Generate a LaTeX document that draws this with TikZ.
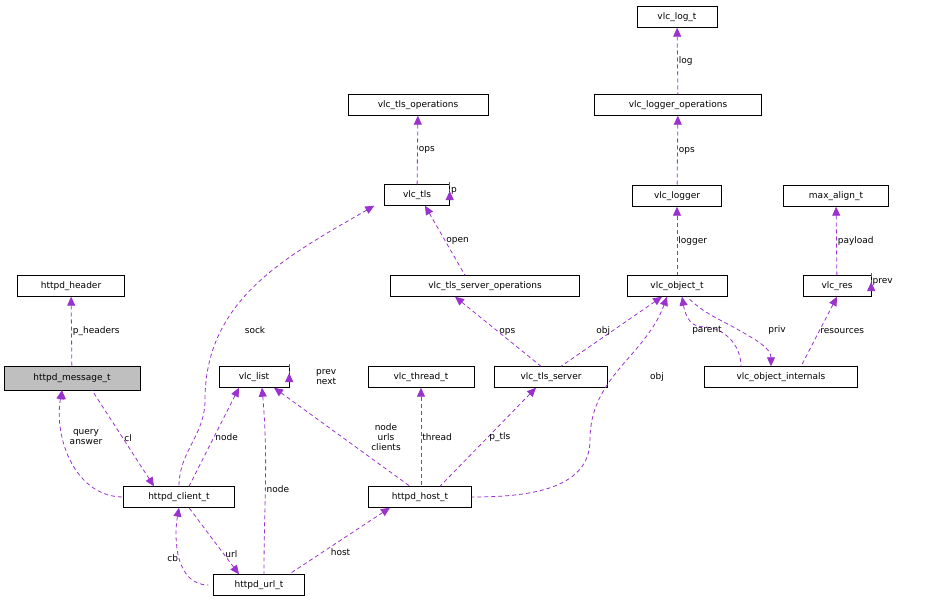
\documentclass[tikz,border=0pt]{standalone}
\usepackage{fontspec}
\setmainfont{DejaVu Sans}
\usetikzlibrary{arrows.meta}
\begin{document}
\begin{tikzpicture}[x=1pt,y=-1pt,
  box/.style={draw=black,fill=white,minimum height=21pt,inner sep=0pt,font=\fontsize{9}{10}\selectfont},
  e/.style={draw={rgb,255:red,154;green,50;blue,205},dashed,line width=0.8pt,dash pattern=on 4pt off 3pt,
    {Triangle[length=9pt,width=8pt,fill={rgb,255:red,154;green,50;blue,205}]}-},
  lab/.style={font=\fontsize{9}{10}\selectfont,align=center,inner sep=1pt}]
\useasboundingbox (0,0) rectangle (935,605);
\node[box,minimum width=80pt] (log) at (677,17) {vlc\_log\_t};
\node[box,minimum width=167pt] (lops) at (678,105) {vlc\_logger\_operations};
\node[box,minimum width=140pt] (tops) at (418,105) {vlc\_tls\_operations};
\node[box,minimum width=65pt] (tls) at (417,195) {vlc\_tls};
\node[box,minimum width=89pt] (logger) at (677,196) {vlc\_logger};
\node[box,minimum width=105pt] (max) at (836,196) {max\_align\_t};
\node[box,minimum width=107pt] (hdr) at (71,286) {httpd\_header};
\node[box,minimum width=189pt] (tsops) at (485,286) {vlc\_tls\_server\_operations};
\node[box,minimum width=100pt] (obj) at (677,286) {vlc\_object\_t};
\node[box,minimum width=68pt] (res) at (837,286) {vlc\_res};
\node[box,minimum width=136pt,minimum height=24pt,fill={rgb,255:red,191;green,191;blue,191}] (msg) at (72,378) {httpd\_message\_t};
\node[box,minimum width=70pt] (list) at (254,377) {vlc\_list};
\node[box,minimum width=106pt] (thr) at (421,377) {vlc\_thread\_t};
\node[box,minimum width=113pt] (tsrv) at (551,377) {vlc\_tls\_server};
\node[box,minimum width=153pt] (oint) at (781,377) {vlc\_object\_internals};
\node[box,minimum width=111pt] (cli) at (179,497) {httpd\_client\_t};
\node[box,minimum width=103pt] (host) at (420,497) {httpd\_host\_t};
\node[box,minimum width=91pt] (url) at (259,585) {httpd\_url\_t};

\draw[e] (log) -- node[lab,right]{log} (lops);
\draw[e] (lops) -- node[lab,right]{ops} (logger);
\draw[e] (tops) -- node[lab,right]{ops} (tls);
\draw[e] (tls.east) ++(0,-4) coordinate(a1) (a1) to[out=0,in=0,looseness=2.5] node[lab,right]{p} ([yshift=4pt]tls.east);
\draw[e] (logger) -- node[lab,right]{logger} (obj);
\draw[e] ([xshift=8pt]tls.south) -- node[lab,right]{open} ([xshift=-20pt]tsops.north);
\draw[e] (max) -- node[lab,right]{payload} (res);
\draw[e] (res.east) ++(0,-4) coordinate(a2) (a2) to[out=0,in=0,looseness=2.5] node[lab,right]{prev} ([yshift=4pt]res.east);
\draw[e] (hdr) -- node[lab,right]{p\_headers} (msg);
\draw[e] ([xshift=-30pt]tsops.south) -- node[lab,right]{ops} ([xshift=-10pt]tsrv.north);
\draw[e] ([xshift=-15pt]obj.south) -- node[lab,left,pos=0.5]{obj} ([xshift=10pt]tsrv.north);
\draw[e] ([xshift=5pt]obj.south) to[out=-80,in=180] ++(20,30) to[out=0,in=90] node[lab,right,pos=0]{} ([xshift=-40pt]oint.north);
\node[lab] at (707,330) {parent};
\draw[e] ([xshift=-10pt]oint.north) to[out=90,in=-30] ++(-30,-35) to[out=150,in=-45] ([xshift=10pt]obj.south);
\draw[e] (res.south) -- node[lab,right]{resources} ([xshift=20pt]oint.north);
\node[lab] at (777,330) {priv};
\draw[e] (list.east) ++(0,-4) coordinate(a3) (a3) to[out=0,in=0,looseness=2.5] ([yshift=4pt]list.east);
\node[lab,anchor=west] at (315,377) {prev\\next};
\draw[e] ([xshift=-10pt]tls.south west) to[out=-150,in=90] (205,400) to[out=-90,in=90] ([xshift=0pt]cli.north);
\node[lab] at (255,330) {sock};
\draw[e] (msg.south west) ++(58,0) coordinate(m1);
\draw[e] ([xshift=-10pt]msg.south) to[out=-100,in=180] (cli.west);
\node[lab] at (86,437) {query\\answer};
\draw[e] ([xshift=-25pt]cli.north) -- node[lab,right]{cl} ([xshift=20pt]msg.south);
\draw[e] ([xshift=-15pt]list.south) -- node[lab,right]{node} ([xshift=10pt]cli.north);
\draw[e] ([xshift=8pt]list.south) to[out=-85,in=90] node[lab,right,pos=0.55]{node} ([xshift=5pt]url.north);
\draw[e] ([xshift=20pt]list.south) -- ([xshift=-10pt]host.north);
\node[lab] at (386,437) {node\\urls\\clients};
\draw[e] (thr) -- node[lab,right]{thread} ([xshift=1pt]host.north);
\draw[e] ([xshift=-15pt]tsrv.south) -- node[lab,right]{p\_tls} ([xshift=20pt]host.north);
\draw[e] ([xshift=-10pt]obj.south) to[out=-110,in=90] (590,440) to[out=-90,in=0] (host.east);
\node[lab] at (657,377) {obj};
\draw[e] (cli.south) to[out=-100,in=180] node[lab,left]{cb} ([xshift=-5pt]url.west);
\draw[e] ([xshift=-20pt]url.north) -- node[lab,right,pos=0.3]{url} ([xshift=10pt]cli.south);
\draw[e] ([xshift=-30pt]host.south) -- node[lab,below right,pos=0.6]{host} ([xshift=30pt]url.north);
\end{tikzpicture}
\end{document}
